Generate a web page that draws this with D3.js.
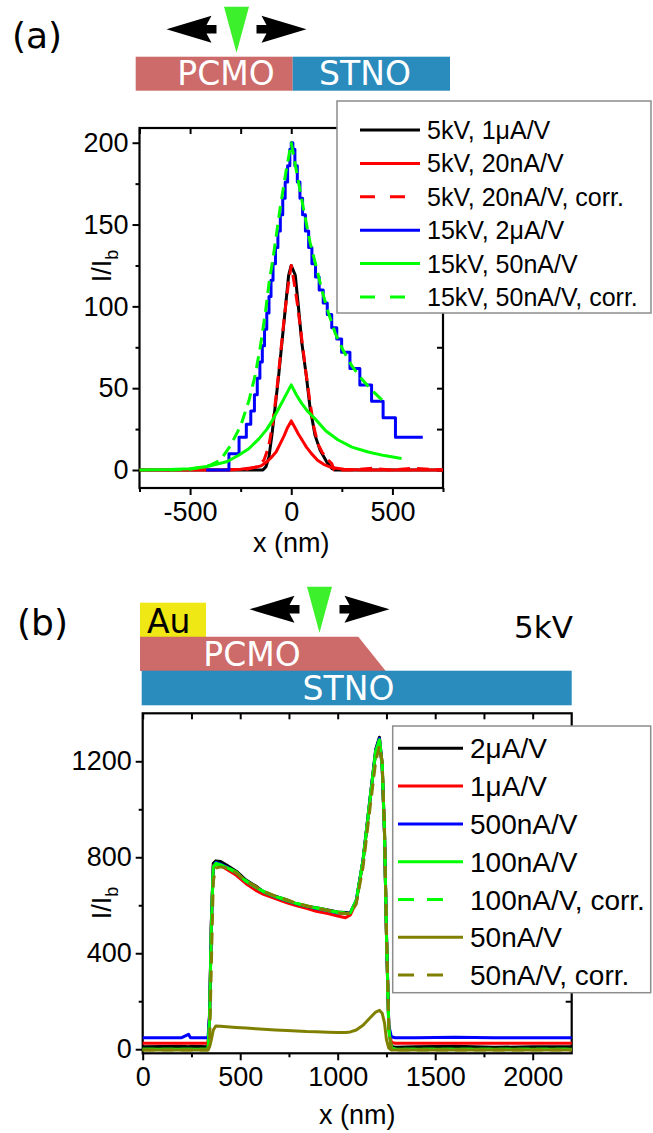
<!DOCTYPE html>
<html>
<head>
<meta charset="utf-8">
<script src="https://cdn.jsdelivr.net/npm/d3@7"></script>
<style>
body { margin: 0; background: #fff; }
svg text { font-family: "Liberation Sans", Arial, sans-serif; fill: #000; }
svg text.schem { font-family: "DejaVu Sans", sans-serif; }
</style>
</head>
<body>
<div id="chart"></div>
<script>
// ---- panel (a): line profiles, x in nm, y = I/Ib ----
var aLegend = ["5kV, 1\u03bcA/V", "5kV, 20nA/V", "5kV, 20nA/V, corr.", "15kV, 2\u03bcA/V", "15kV, 50nA/V", "15kV, 50nA/V, corr."];
var aXTicks = [-500, 0, 500];
var aXMinor = [-750, -250, 250, 750];
var aYTicks = [0, 50, 100, 150, 200];
var aYMinor = [25, 75, 125, 175];

var a5kV1uA = [[-750,0],[-140,0],[-125,2],[-110,8],[-95,22],[-80,38],[-62,58],[-46,78],[-29,99],[-13,119],[0,125],[20,119],[36,99],[52,78],[74,58],[93,38],[118,21],[143,12],[175,5],[200,1],[215,0],[750,0]];
var a5kV20nA = [[-750,0],[-350,0],[-250,0.5],[-180,1.5],[-150,2.5],[-120,5],[-100,7.5],[-75,11],[-55,16],[-35,21],[-18,26],[0,30],[18,26],[35,22],[55,18],[75,14],[100,10],[130,6],[160,3.5],[200,1.5],[260,0.5],[350,0],[750,0]];
var a5kV20nACorr = [[-320,0],[-220,0.5],[-170,2],[-135,6],[-112,14],[-92,28],[-72,48],[-52,72],[-32,96],[-15,113],[0,125],[15,114],[32,100],[52,80],[72,60],[92,42],[112,26],[132,16],[152,11],[175,7],[200,4],[212,0],[300,0],[400,1],[500,0],[600,1],[750,0]];
var a15kV2uA = [[-420,0],[-308,10],[-258,20],[-222,28],[-200,36],[-182,46],[-168,56],[-155,66],[-143,76],[-132,86],[-121,96],[-110,106],[-100,116],[-90,126],[-78,136],[-66,146],[-54,156],[-42,166],[-30,176],[-18,186],[-7,196],[0,200],[8,196],[18,186],[30,176],[43,166],[56,156],[70,146],[86,136],[102,126],[120,118],[138,110],[158,102],[178,95],[200,87],[225,80],[249,72],[290,62],[339,52],[397,42],[454,32],[515,20],[650,20]];
var a15kV50nA = [[-750,0],[-600,0.3],[-500,0.8],[-400,2.5],[-320,5],[-260,9],[-210,13],[-160,19],[-120,25],[-90,31],[-60,38],[-30,45],[0,52],[25,46],[50,41],[80,36],[120,31],[170,24],[230,18.5],[300,14],[380,11],[460,8.8],[545,7]];
var a15kV50nACorr = [[-600,0],[-500,0.5],[-450,1.5],[-400,3],[-350,6],[-300,15],[-250,27],[-210,42],[-178,58],[-152,76],[-128,96],[-110,114],[-88,131],[-55,160],[-28,181],[0,200],[28,181],[60,160],[93,139],[126,123],[151,110],[184,96],[216,84],[257,73],[298,64],[339,57],[388,50],[455,42]];

// ---- panel (b): 5kV line profiles across the Au/PCMO/STNO stack ----
var bLegend = ["2\u03bcA/V", "1\u03bcA/V", "500nA/V", "100nA/V", "100nA/V, corr.", "50nA/V", "50nA/V, corr."];
var bXTicks = [0, 500, 1000, 1500, 2000];
var bXMinor = [250, 750, 1250, 1750];
var bYTicks = [0, 400, 800, 1200];
var bYMinor = [200, 600, 1000];

var bX = [0, 200, 235, 245, 335, 343, 352, 362, 375, 400, 430, 480, 530, 580, 620, 680, 740, 790, 840, 890, 950, 1000, 1040, 1065, 1095, 1130, 1165, 1195, 1214, 1228, 1240, 1250, 1262, 1275, 1295, 1400, 1600, 1800, 2000, 2200];
var b2uA      = [10,12,10,12,10,140,530,775,785,782,768,742,705,680,655,638,622,604,596,590,580,572,570,568,615,790,1040,1250,1300,1190,905,480,90,12,8,10,12,8,10,10];
var b1uA      = [25,25,25,25,25,140,520,765,772,765,750,725,690,662,645,628,610,598,587,575,565,555,548,560,612,782,1030,1240,1285,1175,895,478,95,28,25,25,25,25,25,25];
var b500nA    = [48,48,62,48,48,150,520,760,778,772,760,735,700,675,656,635,618,606,596,586,577,568,566,570,621,788,1037,1245,1295,1180,900,484,100,52,48,48,50,48,48,48];
var b100nA    = [0,0,0,0,0,130,510,760,775,768,758,735,700,675,656,636,620,607,597,588,578,570,566,568,618,785,1035,1242,1290,1185,900,480,80,5,0,0,0,0,0,0];
var b100nACorr = [0,0,0,0,0,120,500,755,772,768,760,738,702,677,658,638,622,608,598,590,580,572,568,570,620,786,1036,1240,1288,1185,905,485,85,5,0,0,0,0,0,0];
var b50nA     = [-3,-3,-3,-3,-3,10,40,80,97,96,94,91,88,85,83,80,78,76,74,73,71,70,70,72,80,100,130,155,162,150,110,40,5,-3,-3,-3,-3,-3,-3,-3];
var b50nACorr = [-3,-3,-3,-3,-3,30,350,700,755,760,755,735,702,678,658,638,622,608,598,588,578,568,565,568,605,760,1000,1200,1265,1200,920,500,90,0,-3,-3,-3,-3,-3,-3];

function init() {
    var w = 653;
    var h = 1133;

    var svg = d3.select("#chart")
                .append("svg")
                .attr("width", w)
                .attr("height", h);

    svg.append("rect").attr("width", w).attr("height", h).attr("fill", "#fff");

    var colors = ["#000000", "#ff0000", "#ff0000", "#0000ff", "#00ff00", "#00ff00"];
    var dashed = [false, false, true, false, false, true];

    // ---------------- schematic (a) ----------------
    svg.append("text").attr("class", "schem").attr("x", 12).attr("y", 48)
        .attr("font-size", 36).text("(a)");
    svg.append("rect").attr("x", 135.7).attr("y", 56.7).attr("width", 157).attr("height", 34)
        .attr("fill", "#cd6a6a");
    svg.append("rect").attr("x", 292.7).attr("y", 56.7).attr("width", 157.3).attr("height", 34)
        .attr("fill", "#2a8bbd");
    svg.append("text").attr("class", "schem").attr("x", 226).attr("y", 85)
        .attr("text-anchor", "middle").attr("font-size", 33).style("fill", "#fff").text("PCMO");
    svg.append("text").attr("class", "schem").attr("x", 365).attr("y", 85)
        .attr("text-anchor", "middle").attr("font-size", 33).style("fill", "#fff").text("STNO");
    probe(svg, 236.5, 6.7, 52.7, 29.3);

    // ---------------- panel (a) ----------------
    var xA = d3.scaleLinear().domain([-750, 750]).range([139.5, 443]);
    var yA = d3.scaleLinear().domain([-11, 209]).range([488, 128]);
    var gA = svg.append("g");

    frame(gA, xA, yA, aXTicks, aXMinor, aYTicks, aYMinor);

    var lineA = d3.line()
        .x(function(d) { return xA(d[0]); })
        .y(function(d) { return yA(d[1]); });
    var stepA = d3.line()
        .curve(d3.curveStepAfter)
        .x(function(d) { return xA(d[0]); })
        .y(function(d) { return yA(d[1]); });

    var aSeries = [a5kV1uA, a5kV20nA, a5kV20nACorr, a15kV2uA, a15kV50nA, a15kV50nACorr];
    aSeries.forEach(function(s, i) {
        gA.append("path")
            .datum(s)
            .attr("d", i === 3 ? stepA : lineA)
            .attr("fill", "none")
            .attr("stroke", colors[i])
            .attr("stroke-width", 3)
            .attr("stroke-linejoin", "round")
            .attr("stroke-dasharray", dashed[i] ? "12,7" : null);
    });

    axisLabels(gA, xA, 552, 111, 266);

    // legend (a)
    var legA = gA.append("g");
    legA.append("rect").attr("x", 337).attr("y", 101).attr("width", 314).attr("height", 212)
        .attr("fill", "#fff").attr("stroke", "#8c8c8c").attr("stroke-width", 1.5);
    aLegend.forEach(function(t, i) {
        var ly = 130 + i * 33.4;
        legA.append("line")
            .attr("x1", 360).attr("x2", dashed[i] ? 406 : 420)
            .attr("y1", ly).attr("y2", ly)
            .attr("stroke", colors[i]).attr("stroke-width", 3)
            .attr("stroke-dasharray", dashed[i] ? "15,15" : null);
        legA.append("text").attr("x", 427).attr("y", ly + 9)
            .attr("font-size", 25).text(t);
    });

    // ---------------- schematic (b) ----------------
    svg.append("text").attr("class", "schem").attr("x", 17).attr("y", 635)
        .attr("font-size", 36).text("(b)");
    svg.append("rect").attr("x", 140).attr("y", 602.7).attr("width", 66).attr("height", 34.5)
        .attr("fill", "#f0e814");
    svg.append("text").attr("class", "schem").attr("x", 147).attr("y", 632.5)
        .attr("font-size", 33).text("Au");
    svg.append("polygon")
        .attr("points", "140,636.7 358.3,636.7 385.7,670.9 140,670.9")
        .attr("fill", "#cd6a6a");
    svg.append("rect").attr("x", 141.7).attr("y", 670.7).attr("width", 430).attr("height", 34.6)
        .attr("fill", "#2a8bbd");
    svg.append("text").attr("class", "schem").attr("x", 252).attr("y", 666)
        .attr("text-anchor", "middle").attr("font-size", 33).style("fill", "#fff").text("PCMO");
    svg.append("text").attr("class", "schem").attr("x", 348.5).attr("y", 699.5)
        .attr("text-anchor", "middle").attr("font-size", 33).style("fill", "#fff").text("STNO");
    svg.append("text").attr("class", "schem").attr("x", 514).attr("y", 638.3)
        .attr("font-size", 31).text("5kV");
    probe(svg, 319.5, 586.7, 632.7, 609.3);

    // ---------------- panel (b) ----------------
    var xB = d3.scaleLinear().domain([0, 2200]).range([142.7, 571.7]);
    var yB = d3.scaleLinear().domain([-17, 1400]).range([1053.3, 713.3]);
    var gB = svg.append("g");

    frame(gB, xB, yB, bXTicks, bXMinor, bYTicks, bYMinor);

    var bColors = ["#000000", "#ff0000", "#0000ff", "#00ff00", "#00ff00", "#808000", "#808000"];
    var bDashed = [false, false, false, false, true, false, true];
    var bSeries = [b2uA, b1uA, b500nA, b100nA, b100nACorr, b50nA, b50nACorr];

    var lineB = d3.line()
        .x(function(d, i) { return xB(bX[i]); })
        .y(function(d) { return yB(d); });

    bSeries.forEach(function(s, i) {
        gB.append("path")
            .datum(s)
            .attr("d", lineB)
            .attr("fill", "none")
            .attr("stroke", bColors[i])
            .attr("stroke-width", 3)
            .attr("stroke-linejoin", "round")
            .attr("stroke-dasharray", bDashed[i] ? "12,7" : null);
    });

    axisLabels(gB, xB, 1124, 111, 903);

    // legend (b)
    var legB = gB.append("g");
    legB.append("rect").attr("x", 392.7).attr("y", 726).attr("width", 258).attr("height", 266.7)
        .attr("fill", "#fff").attr("stroke", "#8c8c8c").attr("stroke-width", 1.5);
    bLegend.forEach(function(t, i) {
        var ly = 748.3 + i * 37.8;
        legB.append("line")
            .attr("x1", 398).attr("x2", bDashed[i] ? 444 : 463)
            .attr("y1", ly).attr("y2", ly)
            .attr("stroke", bColors[i]).attr("stroke-width", 3)
            .attr("stroke-dasharray", bDashed[i] ? "16,13" : null);
        legB.append("text").attr("x", 470).attr("y", ly + 10)
            .attr("font-size", 28).text(t);
    });
}

// green beam triangle with the two black scan arrows
function probe(svg, c, top, tip, ay) {
    var arrow = function(s) {
        return [[c - 70 * s, ay], [c - 25 * s, ay - 13.5], [c - 30 * s, ay - 4.2], [c - 20 * s, ay - 4.2],
                [c - 20 * s, ay + 4.2], [c - 30 * s, ay + 4.2], [c - 25 * s, ay + 13.5]]
               .map(function(p) { return p.join(","); }).join(" ");
    };
    svg.append("polygon").attr("points", arrow(1)).attr("fill", "#000");
    svg.append("polygon").attr("points", arrow(-1)).attr("fill", "#000");
    svg.append("polygon")
        .attr("points", (c - 12.5) + "," + top + " " + (c + 12.5) + "," + top + " " + c + "," + tip)
        .attr("fill", "#3cf02c");
}

// box frame, outward ticks on left/bottom, inward mirror ticks on top/right
function frame(g, x, y, xMaj, xMin, yMaj, yMin) {
    var x0 = x.range()[0], x1 = x.range()[1];
    var y0 = y.range()[0], y1 = y.range()[1];
    var fmt = function(d) { return d < 0 ? "-" + (-d) : "" + d; };

    var axes = [
        g.append("g").attr("transform", "translate(0," + y0 + ")")
            .call(d3.axisBottom(x).tickValues(xMaj).tickSize(7).tickPadding(7).tickFormat(fmt)),
        g.append("g").attr("transform", "translate(0," + y0 + ")")
            .call(d3.axisBottom(x).tickValues(xMin).tickSize(4).tickFormat("")),
        g.append("g").attr("transform", "translate(0," + y1 + ")")
            .call(d3.axisTop(x).tickValues(xMaj.concat(xMin)).tickSize(-6).tickFormat("")),
        g.append("g").attr("transform", "translate(" + x0 + ",0)")
            .call(d3.axisLeft(y).tickValues(yMaj).tickSize(7).tickPadding(4).tickFormat(fmt)),
        g.append("g").attr("transform", "translate(" + x0 + ",0)")
            .call(d3.axisLeft(y).tickValues(yMin).tickSize(4).tickFormat("")),
        g.append("g").attr("transform", "translate(" + x1 + ",0)")
            .call(d3.axisRight(y).tickValues(yMaj.concat(yMin)).tickSize(-6).tickFormat(""))
    ];
    axes.forEach(function(a) {
        a.select(".domain").remove();
        a.selectAll("line").attr("stroke", "#000").attr("stroke-width", 2);
        a.selectAll("text").attr("font-size", 27).attr("font-family", "Liberation Sans, Arial, sans-serif");
    });

    g.append("rect")
        .attr("x", x0).attr("y", y1)
        .attr("width", x1 - x0).attr("height", y0 - y1)
        .attr("fill", "none").attr("stroke", "#000").attr("stroke-width", 2.2);
}

// x title under the axis, rotated I/Ib title left of the tick labels
function axisLabels(g, x, xBase, yBase, yMid) {
    var xm = (x.range()[0] + x.range()[1]) / 2;
    g.append("text").attr("x", xm).attr("y", xBase)
        .attr("text-anchor", "middle").attr("font-size", 27).text("x (nm)");
    var yl = g.append("text")
        .attr("transform", "translate(" + yBase + "," + yMid + ") rotate(-90)")
        .attr("text-anchor", "middle").attr("font-size", 27);
    yl.append("tspan").text("I/I");
    yl.append("tspan").attr("font-size", 18).attr("dy", 7).text("b");
}

window.onload = init;
</script>
</body>
</html>
